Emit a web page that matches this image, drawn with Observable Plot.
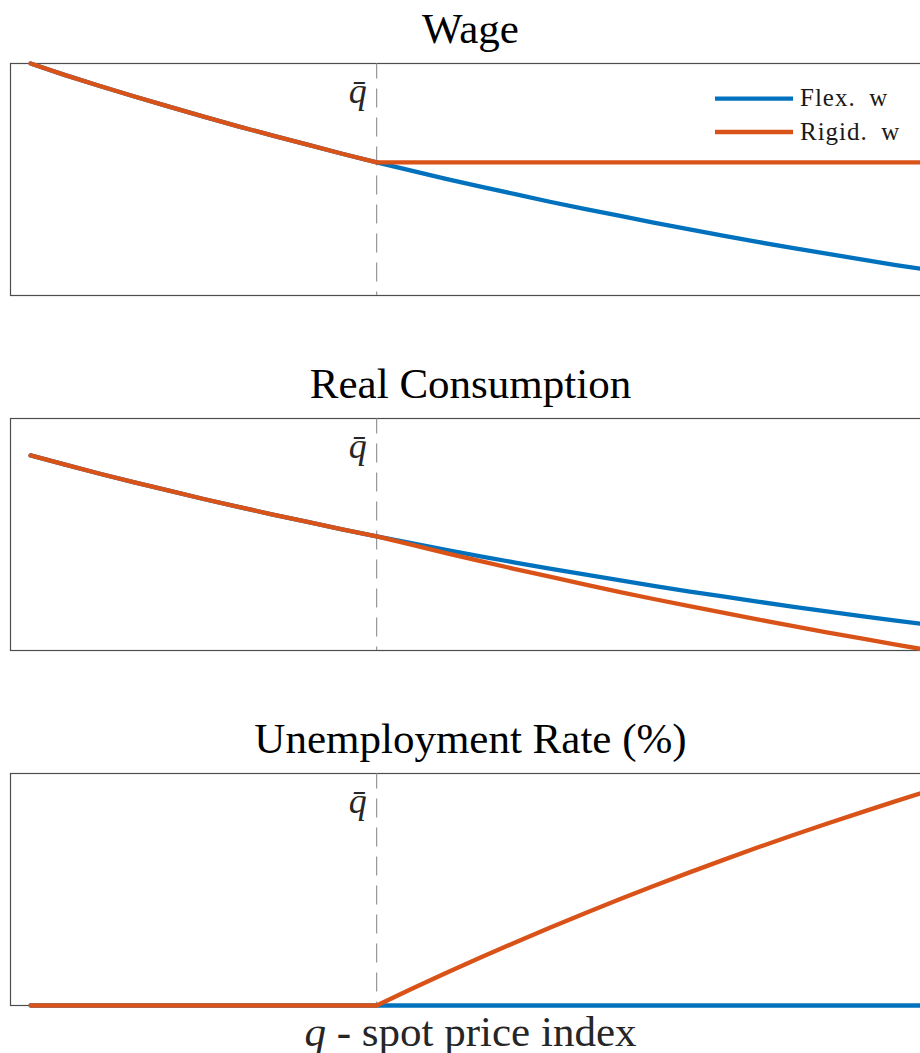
<!DOCTYPE html>
<html>
<head>
<meta charset="utf-8">
<script src="https://cdn.jsdelivr.net/npm/d3@7"></script>
<script src="https://cdn.jsdelivr.net/npm/@observablehq/plot@0.6"></script>
<style>
  html, body { margin: 0; padding: 0; background: #fff; overflow: hidden; }
  #wrap { position: relative; width: 920px; height: 1053px; overflow: hidden; }
  #wrap svg { display: block; max-width: none !important; }
  #legend { position: absolute; left: 0; top: 0; }
</style>
</head>
<body>
<div id="wrap"></div>
<script>
// ---- data ----
const q = [0.80,0.82,0.84,0.86,0.88,0.90,0.92,0.94,0.96,0.98,1.00,1.02,1.04,1.06,1.08,1.10,1.12,1.14,1.16,1.18,1.20,1.22,1.24,1.26,1.28,1.30,1.32];
const qbar = 1.00;

const wageFlex  = [1.000,0.950,0.903,0.858,0.814,0.771,0.729,0.689,0.650,0.611,0.574,0.538,0.503,0.469,0.437,0.404,0.373,0.344,0.314,0.286,0.258,0.231,0.205,0.180,0.156,0.131,0.109];
const wageRigid = [1.000,0.950,0.903,0.858,0.814,0.771,0.729,0.689,0.650,0.611,0.574,0.574,0.574,0.574,0.574,0.574,0.574,0.574,0.574,0.574,0.574,0.574,0.574,0.574,0.574,0.574,0.574];

const consFlex  = [0.841,0.801,0.762,0.725,0.689,0.653,0.619,0.586,0.554,0.522,0.492,0.463,0.434,0.406,0.379,0.353,0.328,0.303,0.279,0.255,0.233,0.211,0.189,0.169,0.148,0.129,0.110];
const consRigid = [0.841,0.801,0.762,0.725,0.689,0.653,0.619,0.586,0.554,0.522,0.492,0.456,0.420,0.385,0.351,0.318,0.285,0.253,0.222,0.192,0.163,0.134,0.106,0.078,0.052,0.025,0.000];

const unempFlex  = [0,0,0,0,0,0,0,0,0,0,0,0,0,0,0,0,0,0,0,0,0,0,0,0,0,0,0];
const unempRigid = [0,0,0,0,0,0,0,0,0,0,0,0.85,1.68,2.48,3.26,4.02,4.76,5.48,6.18,6.86,7.52,8.17,8.79,9.40,9.99,10.57,11.13];

const titles = ["Wage", "Real Consumption", "Unemployment Rate (%)"];
const seriesNames = ["Flex. w", "Rigid. w"];
const xLabel = "q - spot price index";
const qbarLabel = "q\u0304";

const xDomain = [0.7884, 1.32];
const yDomains = [[0, 1], [0, 1], [0, 12]];
const panels = [
  {title: titles[0], flex: wageFlex,  rigid: wageRigid},
  {title: titles[1], flex: consFlex,  rigid: consRigid},
  {title: titles[2], flex: unempFlex, rigid: unempRigid}
];

// ---- style ----
const BLUE = "#0072BD", ORANGE = "#D95319";
const SERIF = "Liberation Serif, Times New Roman, serif";

const wrap = document.getElementById("wrap");

panels.forEach((p, i) => {
  const last = i === panels.length - 1;
  const rowsF = q.map((x, j) => ({x, y: p.flex[j]}));
  const rowsR = q.map((x, j) => ({x, y: p.rigid[j]}));
  const marks = [
    Plot.frame({stroke: "#4d4d4d", strokeWidth: 1.2}),
    Plot.ruleX([qbar], {x: d => d, stroke: "#808080", strokeWidth: 1, strokeDasharray: "19,10", strokeDashoffset: 3.5}),
    Plot.line(rowsF, {x: "x", y: "y", stroke: BLUE, strokeWidth: 4.3}),
    Plot.line(rowsR, {x: "x", y: "y", stroke: ORANGE, strokeWidth: 4.3}),
    Plot.text([qbarLabel], {x: () => qbar, frameAnchor: "top", text: d => d, textAnchor: "end", lineAnchor: "bottom",
      dx: -10, dy: 39, fontSize: 36, fontStyle: "italic", fontFamily: SERIF, fill: "#262626"}),
    Plot.text([p.title], {frameAnchor: "top", text: d => d, lineAnchor: "bottom", dy: -21,
      fontSize: 43, fontFamily: SERIF, fill: "#000"})
  ];
  if (last) {
    marks.push(Plot.text([xLabel], {frameAnchor: "bottom", text: d => d, lineAnchor: "bottom", dy: 40,
      fontSize: 43, fontFamily: SERIF, fill: "#262626"}));
  }
  const svg = Plot.plot({
    width: 940,
    height: last ? 343 : 355,
    marginLeft: 10,
    marginRight: 10,
    marginTop: 63,
    marginBottom: last ? 48 : 60,
    x: {domain: xDomain, axis: null},
    y: {domain: yDomains[i], axis: null},
    style: {background: "transparent", overflow: "visible", maxWidth: "none"},
    marks
  });
  if (last) {
    d3.select(svg).selectAll("text").filter(function() { return this.textContent === xLabel; })
      .each(function() {
        const t = d3.select(this);
        t.text(null);
        t.append("tspan").attr("font-style", "italic").text("q");
        t.append("tspan").text(" - spot price index");
      });
  }
  wrap.appendChild(svg);
});

// ---- legend (in the first panel, top right) ----
const leg = d3.select(wrap).append("svg").attr("id", "legend").attr("width", 920).attr("height", 355);
const legendItems = [
  {name: seriesNames[0], color: BLUE},
  {name: seriesNames[1], color: ORANGE}
];
legendItems.forEach((it, k) => {
  const yLine = 98.7 + k * 33.3;
  leg.append("line").attr("x1", 715).attr("x2", 793).attr("y1", yLine).attr("y2", yLine)
    .attr("stroke", it.color).attr("stroke-width", 4.3);
  leg.append("text").attr("x", 800).attr("y", yLine + 7.5)
    .attr("font-family", SERIF).attr("font-size", 25).attr("letter-spacing", 1)
    .attr("fill", "#1a1a1a").text(it.name.replace(" ", "\u2002"));
});
</script>
</body>
</html>
